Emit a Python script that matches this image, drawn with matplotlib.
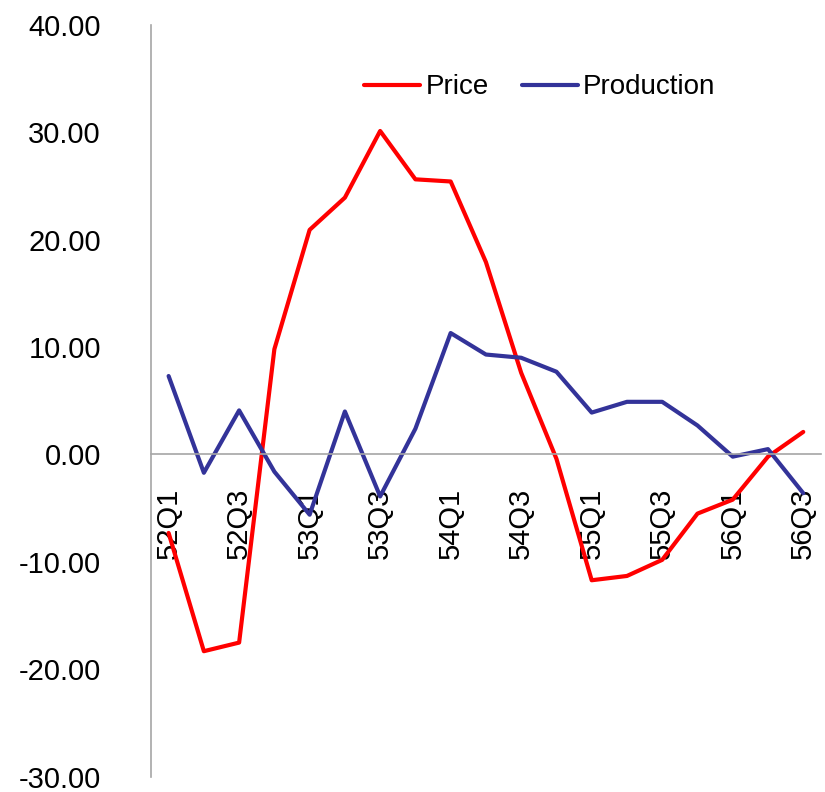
import matplotlib
matplotlib.use("Agg")
import matplotlib.pyplot as plt
import numpy as np

plt.rcParams['font.family'] = ['Liberation Sans', 'DejaVu Sans']

quarters = ['52Q1', '52Q2', '52Q3', '52Q4', '53Q1', '53Q2', '53Q3', '53Q4',
            '54Q1', '54Q2', '54Q3', '54Q4', '55Q1', '55Q2', '55Q3', '55Q4',
            '56Q1', '56Q2', '56Q3']
price = [-7.3, -18.3, -17.5, 9.8, 20.9, 23.9, 30.1, 25.6, 25.4, 17.9,
         7.6, -0.4, -11.7, -11.3, -9.8, -5.5, -4.2, -0.2, 2.1]
production = [7.3, -1.7, 4.1, -1.6, -5.6, 4.0, -3.9, 2.4, 11.3, 9.3,
              9.0, 7.7, 3.9, 4.9, 4.9, 2.7, -0.2, 0.5, -3.6]
yticks = [-30, -20, -10, 0, 10, 20, 30, 40]

fig = plt.figure(figsize=(8.25, 7.92), dpi=100)
ax = fig.add_axes([0.183, 0.019, 0.812, 0.950])

x = np.arange(len(quarters))
ax.plot(x, price, color='#FF0000', lw=3, label='Price', solid_capstyle='round')
ax.plot(x, production, color='#333399', lw=3, label='Production', solid_capstyle='round')

# spine position first, it resets the ticks
ax.spines['top'].set_visible(False)
ax.spines['right'].set_visible(False)
ax.spines['bottom'].set_position(('data', 0))
ax.spines['bottom'].set_color('#A6A6A6')
ax.spines['left'].set_color('#A6A6A6')
ax.spines['bottom'].set_linewidth(1.2)
ax.spines['left'].set_linewidth(1.2)

ax.set_xlim(-0.5, len(quarters) - 0.5)
ax.set_ylim(-30, 40)
ax.set_yticks(yticks)
ax.set_yticklabels(['%.2f' % v for v in yticks], fontsize=21)
ax.set_xticks(x[::2])
ax.set_xticklabels(quarters[::2], rotation=90, fontsize=21, va='top')
ax.tick_params(axis='x', length=0, pad=24)
ax.tick_params(axis='y', length=0, pad=36)

ax.legend(loc='upper right', bbox_to_anchor=(0.88, 0.967), ncol=2, frameon=False,
          fontsize=20, handlelength=2.0, handletextpad=0.2, columnspacing=1.2)

plt.savefig("out.png", dpi=100)
